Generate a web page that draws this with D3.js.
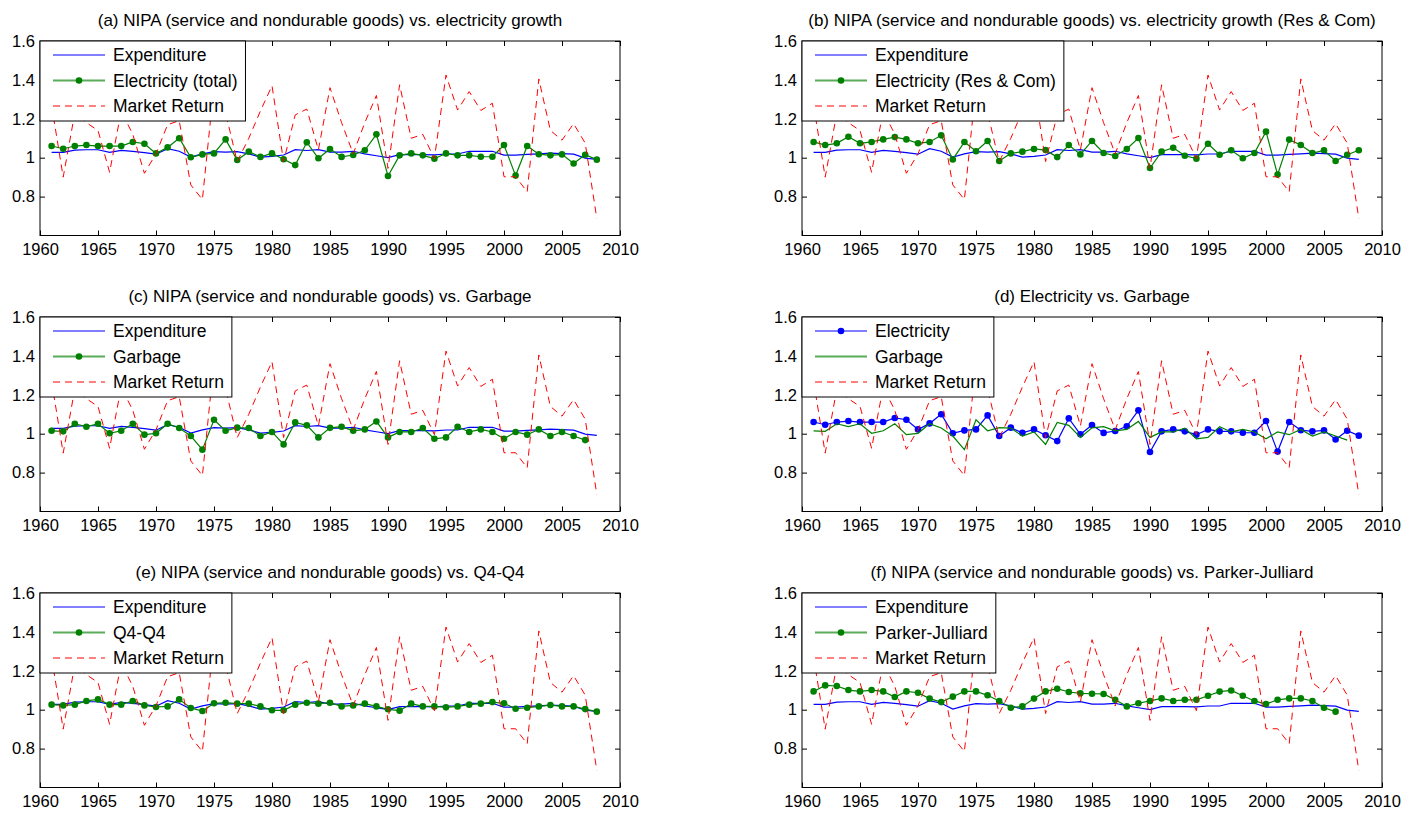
<!DOCTYPE html>
<meta charset='utf-8'>
<head>
    <title>NIPA growth vs. electricity, garbage and market return</title>
    <script src='https://d3js.org/d3.v7.min.js'></script>
</head>

<style>
    body { margin: 0; background: #fff; }
    svg { font-family: 'Liberation Sans', Arial, sans-serif; }
    .frame { fill: none; stroke: #000; stroke-width: 1px; }
    .title { font-size: 17px; }
    .legend rect { fill: #fff; stroke: #000; stroke-width: 1px; }
    .legend text { font-size: 17.5px; }
    .series { fill: none; }
</style>

<body>
<svg></svg>

<script>
    var vWidth = 1402;
    var vHeight = 813;

    // Data, one value per year
    var years = [1961, 1962, 1963, 1964, 1965, 1966, 1967, 1968, 1969, 1970,
        1971, 1972, 1973, 1974, 1975, 1976, 1977, 1978, 1979, 1980,
        1981, 1982, 1983, 1984, 1985, 1986, 1987, 1988, 1989, 1990,
        1991, 1992, 1993, 1994, 1995, 1996, 1997, 1998, 1999, 2000,
        2001, 2002, 2003, 2004, 2005, 2006, 2007, 2008];

    var expenditure = [1.027, 1.027, 1.039, 1.041, 1.041, 1.027, 1.038, 1.033, 1.026, 1.018,
        1.046, 1.033, 1.003, 1.020, 1.031, 1.029, 1.031, 1.020, 1.003, 1.007,
        1.014, 1.041, 1.037, 1.041, 1.029, 1.029, 1.033, 1.020, 1.010, 1.000,
        1.016, 1.016, 1.016, 1.015, 1.019, 1.019, 1.033, 1.033, 1.033, 1.013,
        1.013, 1.017, 1.020, 1.024, 1.021, 1.018, 0.998, 0.991];

    var marketReturn = [1.27, 0.90, 1.23, 1.18, 1.14, 0.925, 1.24, 1.12, 0.92, 1.02,
        1.17, 1.19, 0.86, 0.785, 1.37, 1.23, 0.98, 1.10, 1.24, 1.37,
        0.98, 1.22, 1.25, 1.04, 1.36, 1.18, 1.02, 1.18, 1.32, 0.945,
        1.375, 1.10, 1.12, 0.995, 1.425, 1.245, 1.34, 1.243, 1.28, 0.902,
        0.902, 0.825, 1.405, 1.14, 1.09, 1.175, 1.075, 0.688];

    var elecTotal = [1.060, 1.046, 1.060, 1.065, 1.060, 1.060, 1.060, 1.081, 1.072, 1.022,
        1.053, 1.100, 1.002, 1.017, 1.022, 1.094, 0.988, 1.031, 1.004, 1.022,
        0.992, 0.962, 1.079, 0.997, 1.045, 1.004, 1.014, 1.038, 1.120, 0.906,
        1.012, 1.022, 1.012, 0.995, 1.022, 1.012, 1.012, 1.005, 1.005, 1.065,
        0.908, 1.060, 1.018, 1.012, 1.017, 0.970, 1.015, 0.990];

    var elecResCom = [1.081, 1.065, 1.074, 1.108, 1.074, 1.081, 1.094, 1.106, 1.094, 1.074,
        1.081, 1.115, 0.991, 1.081, 1.033, 1.086, 0.983, 1.022, 1.031, 1.045,
        1.039, 1.003, 1.065, 1.017, 1.086, 1.024, 1.009, 1.045, 1.101, 0.947,
        1.031, 1.051, 1.010, 0.995, 1.072, 1.015, 1.038, 0.997, 1.024, 1.134,
        0.913, 1.093, 1.065, 1.024, 1.038, 0.983, 1.015, 1.038];

    // 1961 - 2007
    var garbage = [1.015, 1.012, 1.051, 1.036, 1.051, 1.002, 1.015, 1.051, 0.995, 1.002,
        1.051, 1.029, 0.988, 0.918, 1.072, 1.015, 1.031, 1.029, 0.988, 1.009,
        0.945, 1.058, 1.043, 0.981, 1.030, 1.036, 1.015, 1.022, 1.063, 0.981,
        1.009, 1.009, 1.029, 0.974, 0.981, 1.036, 1.009, 1.022, 1.009, 0.974,
        1.009, 0.995, 1.022, 0.988, 1.009, 0.988, 0.967];

    var q4q4 = [1.026, 1.022, 1.026, 1.045, 1.053, 1.026, 1.026, 1.045, 1.022, 1.014,
        1.017, 1.053, 1.009, 0.993, 1.033, 1.036, 1.031, 1.031, 1.017, 0.997,
        0.997, 1.026, 1.036, 1.031, 1.036, 1.017, 1.022, 1.031, 1.017, 1.002,
        0.995, 1.031, 1.017, 1.017, 1.012, 1.017, 1.026, 1.031, 1.039, 1.033,
        1.005, 1.010, 1.017, 1.024, 1.017, 1.017, 1.003, 0.990];

    // 1961 - 2006
    var parkerJulliard = [1.094, 1.125, 1.122, 1.101, 1.094, 1.101, 1.094, 1.065, 1.094, 1.087,
        1.057, 1.039, 1.067, 1.094, 1.094, 1.074, 1.045, 1.010, 1.017, 1.057,
        1.094, 1.108, 1.091, 1.084, 1.082, 1.081, 1.051, 1.017, 1.033, 1.045,
        1.058, 1.045, 1.051, 1.051, 1.072, 1.093, 1.099, 1.072, 1.045, 1.029,
        1.051, 1.058, 1.058, 1.045, 1.010, 0.990];

    var xTicks = [1960, 1965, 1970, 1975, 1980, 1985, 1990, 1995, 2000, 2005, 2010];
    var yTicks = [0.8, 1, 1.2, 1.4, 1.6];

    var titles = [
        '(a) NIPA (service and nondurable goods) vs. electricity growth',
        '(b) NIPA (service and nondurable goods) vs. electricity growth (Res & Com)',
        '(c) NIPA (service and nondurable goods) vs. Garbage',
        '(d) Electricity vs. Garbage',
        '(e) NIPA (service and nondurable goods) vs. Q4-Q4',
        '(f) NIPA (service and nondurable goods) vs. Parker-Julliard'
    ];

    // Series styles
    var BLUE = '#0000ff', GREEN = '#008000', RED = '#ff0000';

    function s(name, values, color, marker, dashed) {
        return {name: name, values: values, color: color, marker: marker, dashed: dashed};
    }
    var vMarket = s('Market Return', marketReturn, RED, false, true);

    var panels = [
        [s('Expenditure', expenditure, BLUE), s('Electricity (total)', elecTotal, GREEN, true), vMarket],
        [s('Expenditure', expenditure, BLUE), s('Electricity (Res & Com)', elecResCom, GREEN, true), vMarket],
        [s('Expenditure', expenditure, BLUE), s('Garbage', garbage, GREEN, true), vMarket],
        [s('Electricity', elecTotal, BLUE, true), s('Garbage', garbage, GREEN), vMarket],
        [s('Expenditure', expenditure, BLUE), s('Q4-Q4', q4q4, GREEN, true), vMarket],
        [s('Expenditure', expenditure, BLUE), s('Parker-Julliard', parkerJulliard, GREEN, true), vMarket]
    ];

    // Layout of the 3 x 2 grid
    var colLeft = [40, 802];
    var rowTop = [41, 317, 593];
    var pw = 580, ph = 194.5;

    var svg = d3.select('svg').attr('width', vWidth).attr('height', vHeight);

    panels.forEach(function (series, i) {
        var left = colLeft[i % 2];
        var top = rowTop[Math.floor(i / 2)];
        drawPanel(svg, left, top, titles[i], series);
    });

    /**
     * Draw one subplot
     */
    function drawPanel(svg, left, top, title, series) {
        var x = d3.scaleLinear().domain([1960, 2010]).range([left, left + pw]);
        var y = d3.scaleLinear().domain([0.6, 1.6]).range([top + ph, top]);
        var g = svg.append('g');

        // axes, ticks pointing inwards on all four sides
        var fmt = function (d) { return String(d); };
        var ax = [
            d3.axisBottom(x).tickValues(xTicks).tickSize(-5).tickPadding(8).tickFormat(fmt),
            d3.axisTop(x).tickValues(xTicks).tickSize(-5).tickFormat(''),
            d3.axisLeft(y).tickValues(yTicks).tickSize(-5).tickPadding(5).tickFormat(fmt),
            d3.axisRight(y).tickValues(yTicks).tickSize(-5).tickFormat('')
        ];
        var at = ['translate(0,' + (top + ph) + ')', 'translate(0,' + top + ')',
            'translate(' + left + ',0)', 'translate(' + (left + pw) + ',0)'];
        ax.forEach(function (a, k) {
            var ga = g.append('g').attr('transform', at[k]).call(a)
                .attr('font-size', 16.5).attr('font-family', null);
            ga.select('.domain').remove();
            ga.selectAll('line').attr('stroke', '#000');
            ga.selectAll('text').attr('fill', '#000');
        });

        // data lines
        var line = d3.line()
            .x(function (d) { return x(d.year); })
            .y(function (d) { return y(d.value); });

        series.forEach(function (sr) {
            var pts = sr.values.map(function (v, k) { return {year: years[k], value: v}; });
            g.append('path').datum(pts).attr('class', 'series')
                .attr('d', line)
                .attr('stroke', sr.color)
                .attr('stroke-width', sr.dashed ? 1 : 1.2)
                .attr('stroke-dasharray', sr.dashed ? '7,5' : null);
            if (sr.marker) {
                g.selectAll(null).data(pts).enter().append('circle')
                    .attr('cx', function (d) { return x(d.year); })
                    .attr('cy', function (d) { return y(d.value); })
                    .attr('r', 3.3)
                    .attr('fill', sr.color);
            }
        });

        // frame
        g.append('rect').attr('class', 'frame')
            .attr('x', left).attr('y', top).attr('width', pw).attr('height', ph);

        // title
        g.append('text').attr('class', 'title')
            .attr('x', left + pw / 2).attr('y', top - 15)
            .attr('text-anchor', 'middle')
            .text(title);

        // legend in the upper left corner
        var lg = g.append('g').attr('class', 'legend');
        var box = lg.append('rect').attr('x', left).attr('y', top).attr('height', 80);
        var maxW = 0;
        series.forEach(function (sr, k) {
            var cy = top + 14 + k * 25.5;
            lg.append('line')
                .attr('x1', left + 13).attr('x2', left + 65)
                .attr('y1', cy).attr('y2', cy)
                .attr('stroke', sr.color)
                .attr('stroke-width', sr.color === GREEN ? 2 : 1)
                .attr('stroke-opacity', sr.color === GREEN ? 0.65 : 1)
                .attr('stroke-dasharray', sr.dashed ? '7,5' : null);
            if (sr.marker) {
                lg.append('circle').attr('cx', left + 39).attr('cy', cy).attr('r', 3.3)
                    .attr('fill', sr.color);
            }
            var t = lg.append('text').attr('x', left + 73).attr('y', cy + 6).text(sr.name);
            maxW = Math.max(maxW, t.node().getComputedTextLength());
        });
        box.attr('width', 73 + maxW + 8);
    }
</script>
</body>
